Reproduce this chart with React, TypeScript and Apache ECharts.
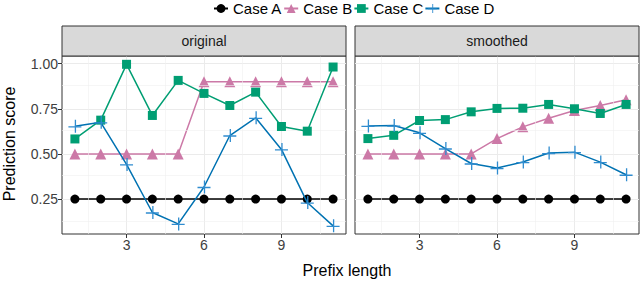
import React, { useEffect, useRef } from "react";
import * as echarts from "echarts";

const prefix = [1, 2, 3, 4, 5, 6, 7, 8, 9, 10, 11];
const caseNames = ["Case A", "Case B", "Case C", "Case D"];
const caseColors = ["#000000", "#CC79A7", "#009E73", "#0072B2"];
const markerColors = ["#000000", "#CC79A7", "#009E73", "#2f8ccf"];
const panelNames = ["original", "smoothed"];

const origA = [0.25, 0.25, 0.25, 0.25, 0.25, 0.25, 0.25, 0.25, 0.25, 0.25, 0.25];
const origB = [0.5, 0.5, 0.5, 0.5, 0.5, 0.9, 0.9, 0.9, 0.9, 0.9, 0.9];
const origC = [0.583, 0.687, 0.996, 0.713, 0.907, 0.835, 0.768, 0.842, 0.652, 0.626, 0.981];
const origD = [0.653, 0.675, 0.442, 0.176, 0.113, 0.317, 0.602, 0.7, 0.525, 0.231, 0.102];

const smA = [0.25, 0.25, 0.25, 0.25, 0.25, 0.25, 0.25, 0.25, 0.25, 0.25, 0.25];
const smB = [0.5, 0.5, 0.5, 0.5, 0.5, 0.585, 0.65, 0.698, 0.74, 0.768, 0.8];
const smC = [0.585, 0.603, 0.685, 0.69, 0.733, 0.752, 0.753, 0.774, 0.75, 0.724, 0.774];
const smD = [0.655, 0.657, 0.617, 0.53, 0.447, 0.422, 0.455, 0.505, 0.51, 0.455, 0.385];

const xTicks = [3, 6, 9];
const xMinor = [1.5, 4.5, 7.5, 10.5];
const yTicks = [0.25, 0.5, 0.75, 1.0];
const yMinor = [0.125, 0.375, 0.625, 0.875];

const PLUS = "path://M0,6.35L13,6.35L13,7.65L0,7.65Z M6.35,0L7.65,0L7.65,13L6.35,13Z";
const symbols = ["circle", "triangle", "rect", PLUS];
const symbolSizes = [9, 11, 9, 13];

const FONT = "'Liberation Sans', Arial, Helvetica, sans-serif";

export default function App() {
  const ref = useRef<HTMLDivElement>(null);
  useEffect(() => {
    if (!ref.current) return;
    const chart = echarts.init(ref.current, undefined, { renderer: "svg" });
    const panels = [
      [origA, origB, origC, origD],
      [smA, smB, smC, smD],
    ];
    const gridLefts = [62, 355];
    const gridW = 284;
    const gridTop = 56;
    const gridH = 178;

    const grids = gridLefts.map((l) => ({
      left: l,
      top: gridTop,
      width: gridW,
      height: gridH,
      show: true,
      borderColor: "#333333",
      borderWidth: 1,
      backgroundColor: "#ffffff",
      containLabel: false,
    }));

    const xAxes = gridLefts.map((_, i) => ({
      type: "value",
      gridIndex: i,
      min: 0.5,
      max: 11.5,
      axisLine: { show: false },
      axisTick: { show: true, length: 4, customValues: xTicks, lineStyle: { color: "#333333" } },
      axisLabel: {
        customValues: xTicks,
        margin: 4,
        fontSize: 14,
        color: "#404040",
        fontFamily: FONT,
      },
      splitLine: { show: true, lineStyle: { color: "#ebebeb", width: 1 } },
    }));

    const yAxes = gridLefts.map((_, i) => ({
      type: "value",
      gridIndex: i,
      min: 0.057,
      max: 1.042,
      axisLine: { show: false },
      axisTick: { show: i === 0, length: 4, customValues: yTicks, lineStyle: { color: "#333333" } },
      axisLabel: {
        show: i === 0,
        customValues: yTicks,
        margin: 4,
        fontSize: 14,
        color: "#404040",
        fontFamily: FONT,
        formatter: (v: number) => v.toFixed(2),
      },
      splitLine: { show: true, lineStyle: { color: "#ebebeb", width: 1 } },
    }));

    const series: any[] = [];
    panels.forEach((pd, gi) => {
      series.push({
        type: "line",
        name: "_grid" + gi,
        xAxisIndex: gi,
        yAxisIndex: gi,
        data: [],
        z: 1,
        silent: true,
        markLine: {
          silent: true,
          symbol: "none",
          label: { show: false },
          lineStyle: { color: "#f0f0f0", width: 0.6, type: "solid" },
          data: [
            ...xMinor.map((v) => ({ xAxis: v })),
            ...yMinor.map((v) => ({ yAxis: v })),
          ],
        },
      });
      pd.forEach((vals, ci) => {
        series.push({
          type: "line",
          name: caseNames[ci],
          xAxisIndex: gi,
          yAxisIndex: gi,
          data: prefix.map((x, k) => [x, vals[k]]),
          symbol: symbols[ci],
          symbolSize: symbolSizes[ci],
          showAllSymbol: true,
          z: 3 + ci,
          color: markerColors[ci],
          lineStyle: { color: caseColors[ci], width: 1.5 },
          itemStyle: { color: markerColors[ci], borderWidth: 0 },
          emphasis: { disabled: true },
        });
      });
    });

    const graphics: any[] = [];
    gridLefts.forEach((l, i) => {
      graphics.push({
        type: "rect",
        shape: { x: l, y: 26, width: gridW, height: 30 },
        style: { fill: "#d9d9d9", stroke: "#333333", lineWidth: 1 },
        z: 10,
      });
      graphics.push({
        type: "text",
        x: l + gridW / 2,
        y: 41,
        style: {
          text: panelNames[i],
          fontSize: 14,
          fontFamily: FONT,
          fill: "#1a1a1a",
          align: "center",
          verticalAlign: "middle",
        },
        z: 11,
      });
    });
    graphics.push({
      type: "text",
      x: 347,
      y: 270,
      style: {
        text: "Prefix length",
        fontSize: 16,
        fontFamily: FONT,
        fill: "#000000",
        align: "center",
        verticalAlign: "middle",
      },
    });
    graphics.push({
      type: "text",
      x: 9,
      y: 144,
      rotation: Math.PI / 2,
      style: {
        text: "Prediction score",
        fontSize: 16,
        fontFamily: FONT,
        fill: "#000000",
        align: "center",
        verticalAlign: "middle",
      },
    });

    chart.setOption({
      animation: false,
      textStyle: { fontFamily: FONT },
      legend: {
        data: caseNames,
        left: 213,
        top: 1,
        padding: 0,
        itemWidth: 14,
        itemHeight: 11,
        itemGap: 1,
        textStyle: { fontSize: 15, color: "#000000", fontFamily: FONT },
        selectedMode: false,
      },
      grid: grids,
      xAxis: xAxes,
      yAxis: yAxes,
      series,
      graphic: graphics,
    });
    return () => chart.dispose();
  }, []);
  return (
    <div
      ref={ref}
      style={{ position: "fixed", left: 0, top: 0, width: 640, height: 283, background: "#fff" }}
    />
  );
}
